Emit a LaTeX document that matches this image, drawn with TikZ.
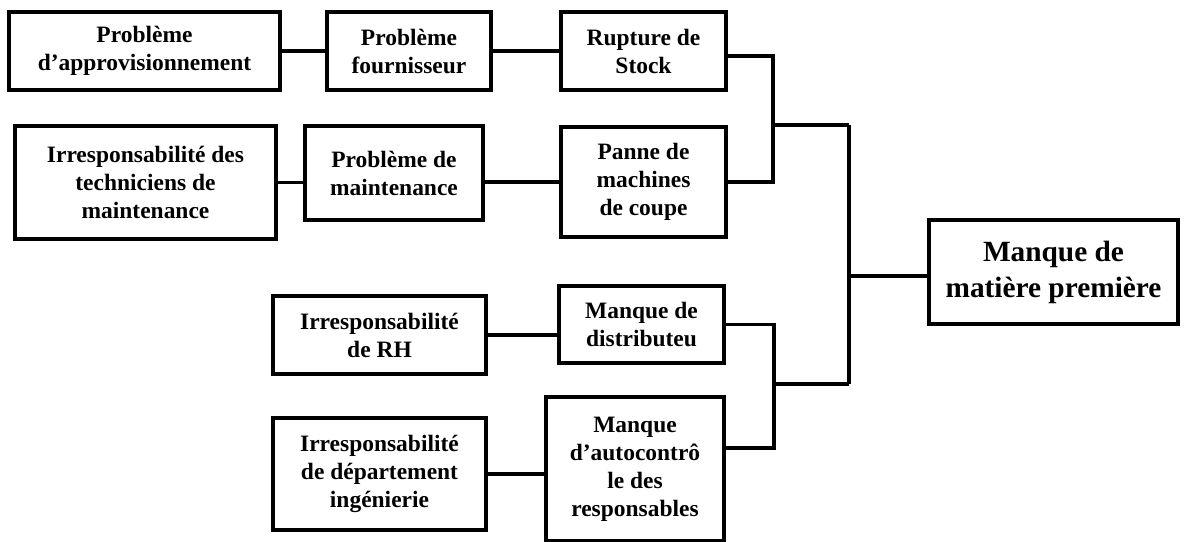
\documentclass[tikz,border=0pt]{standalone}
\usepackage{fontspec}
\setmainfont{Liberation Serif}
\usetikzlibrary{calc}
\begin{document}
\begin{tikzpicture}[x=0.75pt,y=-0.75pt,
  cause/.style={draw,line width=2.5pt,rectangle,inner sep=0pt,align=center,
    font=\bfseries\fontsize{17.6pt}{21pt}\selectfont},
  effect/.style={draw,line width=2.5pt,rectangle,inner sep=0pt,align=center,
    font=\bfseries\fontsize{22pt}{27pt}\selectfont},
  link/.style={line width=2.3pt}]
\useasboundingbox (0,0) rectangle (1188,542);

% boxes
\node[cause,minimum width=271*0.75pt,minimum height=78*0.75pt] (A) at (144.5,51)
  {Problème\\d’approvisionnement};
\node[cause,minimum width=164*0.75pt,minimum height=78*0.75pt] (B) at (409,51)
  {Problème\\fournisseur};
\node[cause,minimum width=165*0.75pt,minimum height=78*0.75pt] (C) at (643.5,51)
  {Rupture de\\Stock};
\node[cause,minimum width=261*0.75pt,minimum height=113*0.75pt] (D) at (145.5,182.5)
  {Irresponsabilité des\\techniciens de\\maintenance};
\node[cause,minimum width=178*0.75pt,minimum height=94*0.75pt] (E) at (394,173)
  {Problème de\\maintenance};
\node[cause,minimum width=165*0.75pt,minimum height=110*0.75pt] (F) at (643.5,182)
  {Panne de\\machines\\de coupe};
\node[cause,minimum width=213*0.75pt,minimum height=78*0.75pt] (G) at (379.5,335)
  {Irresponsabilité\\de RH};
\node[cause,minimum width=213*0.75pt,minimum height=112*0.75pt] (H) at (379.5,474)
  {Irresponsabilité\\de département\\ingénierie};
\node[cause,minimum width=165*0.75pt,minimum height=77*0.75pt] (I) at (641.5,324.5)
  {Manque de\\distributeu};
\node[cause,minimum width=178*0.75pt,minimum height=144*0.75pt] (J) at (635,469)
  {Manque\\d’autocontrô\\le des\\responsables};
\node[effect,minimum width=249*0.75pt,minimum height=104*0.75pt] (K) at (1053.5,272)
  {Manque de\\matière première};

% junction points
\coordinate (ju) at (773,125);
\coordinate (jl) at (774,384);
\coordinate (jlb) at (774,448);
\coordinate (jt) at (849,125);
\coordinate (jb) at (849,384);
\coordinate (jm) at (849,276);

% chains
\draw[link] (A.east) -- (B.west);
\draw[link] (B.east) -- (C.west);
\draw[link] (D.east) -- (D.east -| E.west);
\draw[link] (F.west -| E.east) -- (F.west);
\draw[link] (G.east) -- (G.east -| I.west);
\draw[link] (H.east) -- (H.east -| J.west);

% upper bracket
\draw[link] ($(C.east)+(0,5)$) -| (ju) |- (F.east);
\draw[link] (ju) -- (jt);
% lower bracket
\draw[link] (I.east) -| (jl) -- (jlb) -- (jlb -| J.east);
\draw[link] (jl) -- (jb);
% main spine
\draw[link] (jt) -- (jb);
\draw[link] (jm) -- (jm -| K.west);
\end{tikzpicture}
\end{document}
